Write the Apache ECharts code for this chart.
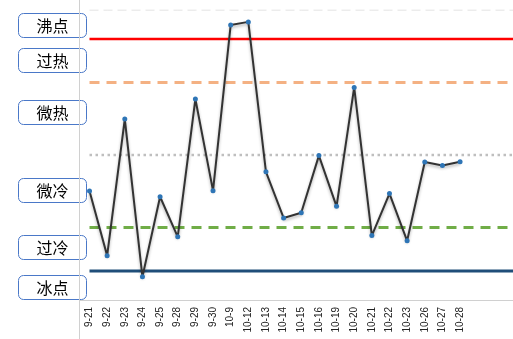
<!DOCTYPE html>
<html>
<head>
<meta charset="utf-8">
<script src="https://cdn.jsdelivr.net/npm/echarts@6/dist/echarts.min.js"></script>
<style>
  html, body { margin: 0; padding: 0; background: #fff; }
  #chart { width: 513px; height: 339px; }
</style>
</head>
<body>
<div id="chart"></div>
<script>
// Trading days
const dates = ['9-21', '9-22', '9-23', '9-24', '9-25', '9-28', '9-29', '9-30', '10-9', '10-12',
  '10-13', '10-14', '10-15', '10-16', '10-19', '10-20', '10-21', '10-22', '10-23', '10-26',
  '10-27', '10-28'];
// Empty slots so the reference lines run on to the right edge
const padSlots = ['', '', ''];
// Sentiment reading for each day (0–100)
const readings = [37.6, 15.3, 62.4, 8.0, 35.6, 21.8, 69.3, 37.7, 94.8, 95.9,
  44.2, 28.3, 30.1, 49.8, 32.3, 73.3, 22.2, 36.7, 20.4, 47.6,
  46.4, 47.7];
// Threshold levels
const levelTop = 100;
const levelBoil = 90;
const levelHot = 75;
const levelMid = 50;
const levelCold = 25;
const levelFreeze = 10;
// Zone names, top to bottom
const zoneNames = ['沸点', '过热', '微热', '微冷', '过冷', '冰点'];

const categories = dates.concat(padSlots);
const flat = v => categories.map(() => v);

function refLine(name, value, color, width, type) {
  return {
    name: name,
    type: 'line',
    data: flat(value),
    symbol: 'none',
    silent: true,
    z: 1,
    lineStyle: { color: color, width: width, type: type }
  };
}

const zoneTops = [13, 48, 100, 178, 235, 275];
const boxes = zoneNames.map((n, i) => ({
  type: 'group',
  left: 18,
  top: zoneTops[i],
  z: 100,
  children: [
    {
      type: 'rect',
      shape: { x: 0, y: 0, width: 68, height: 24, r: 5 },
      style: { fill: '#fff', stroke: '#4a78c8', lineWidth: 1 }
    },
    {
      type: 'text',
      x: 34, y: 12,
      style: {
        text: n, fill: '#000', font: '16px "Noto Sans CJK SC"',
        align: 'center', verticalAlign: 'middle'
      }
    }
  ]
}));

const chart = echarts.init(document.getElementById('chart'), null, { renderer: 'canvas' });
chart.setOption({
  animation: false,
  backgroundColor: '#fff',
  grid: { left: 89.5, right: 0, top: 10, bottom: 39, containLabel: false },
  xAxis: {
    type: 'category',
    data: categories,
    boundaryGap: false,
    axisLine: { show: false },
    axisTick: { show: false },
    axisLabel: {
      interval: 0, rotate: 90, margin: 7,
      fontSize: 10, color: '#222', fontFamily: 'Liberation Sans'
    },
    splitLine: { show: false }
  },
  yAxis: {
    type: 'value',
    min: 0, max: 100,
    axisLine: { show: false },
    axisTick: { show: false },
    axisLabel: { show: false },
    splitLine: { show: false }
  },
  graphic: [
    {
      type: 'line', z: 50,
      shape: { x1: 79.5, y1: 0, x2: 79.5, y2: 339 },
      style: { stroke: '#d0d0d0', lineWidth: 1 }
    },
    {
      type: 'line', z: 50,
      shape: { x1: 79.5, y1: 300.5, x2: 513, y2: 300.5 },
      style: { stroke: '#d0d0d0', lineWidth: 1 }
    }
  ].concat(boxes),
  series: [
    refLine('顶线', levelTop, '#d9d9d9', 1, [9, 5]),
    refLine('沸点', levelBoil, '#ff0000', 2.5, 'solid'),
    refLine('过热', levelHot, '#f4b183', 3, [10, 7]),
    refLine('中线', levelMid, '#bfbfbf', 2.5, [2.5, 3.5]),
    refLine('过冷', levelCold, '#70ad47', 3, [10, 7]),
    refLine('冰点', levelFreeze, '#1f4e79', 3, 'solid'),
    {
      name: '情绪',
      type: 'line',
      data: readings,
      z: 5,
      symbol: 'circle',
      symbolSize: 5,
      itemStyle: { color: '#2e75b6' },
      lineStyle: {
        color: '#333', width: 2,
        shadowColor: 'rgba(0,0,0,0.3)', shadowBlur: 3, shadowOffsetY: 2
      }
    }
  ]
});
</script>
</body>
</html>
